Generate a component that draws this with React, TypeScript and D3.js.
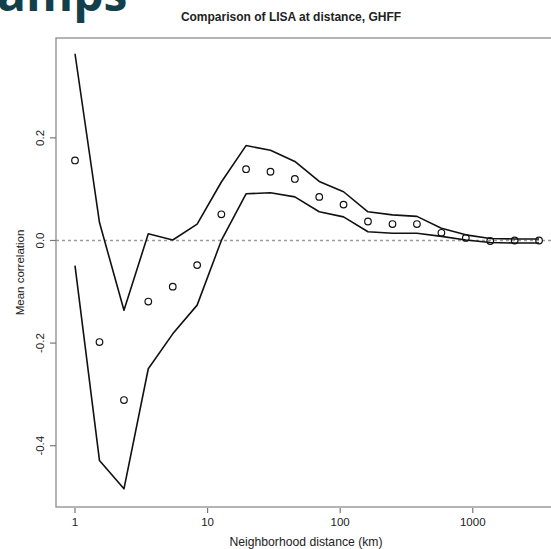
import React from "react";
import * as d3 from "d3";

// Neighborhood distances (km) at which LISA was compared
const distances = [1, 1.53, 2.34, 3.57, 5.46, 8.34, 12.7, 19.5, 29.8, 45.5, 69.5, 106, 162, 248, 379, 580, 886, 1354, 2069, 3162];

// Mean correlation at each distance (points)
const meanCorr = [0.156, -0.198, -0.311, -0.119, -0.09, -0.048, 0.051, 0.139, 0.134, 0.12, 0.085, 0.07, 0.037, 0.032, 0.032, 0.015, 0.005, -0.001, 0.0, 0.0];

// Envelope bounds (solid lines)
const upperBound = [0.364, 0.035, -0.136, 0.013, 0.001, 0.032, 0.114, 0.185, 0.176, 0.154, 0.115, 0.095, 0.056, 0.05, 0.047, 0.024, 0.011, 0.004, 0.003, 0.003];
const lowerBound = [-0.049, -0.429, -0.484, -0.25, -0.182, -0.126, 0.0, 0.091, 0.093, 0.085, 0.056, 0.046, 0.017, 0.014, 0.014, 0.008, 0.001, -0.004, -0.005, -0.005];

const xTicks = [1, 10, 100, 1000];
const yTicks = [-0.4, -0.2, 0.0, 0.2];

const chartTitle = "Comparison of LISA at distance, GHFF";
const xTitle = "Neighborhood distance (km)";
const yTitle = "Mean correlation";
const headerText = "amps";

const W = 551;
const H = 549;
const box = { left: 56, top: 38, right: 556, bottom: 507 };
const FONT = "'Liberation Sans', Arial, Helvetica, sans-serif";

export default function App() {
  const x = d3.scaleLog().domain([0.7189, 3890]).range([56, 551]);
  const y = d3.scaleLinear().domain([-0.5195, 0.3947]).range([507, 38]);

  const line = d3
    .line<number>()
    .x((_, i) => x(distances[i]))
    .y((d) => y(d));

  return (
    <svg
      width={W}
      height={H}
      viewBox={`0 0 ${W} ${H}`}
      style={{ position: "absolute", left: 0, top: 0, background: "#fff" }}
    >
      <rect x={0} y={0} width={W} height={H} fill="#fff" />

      {/* slide heading fragment, running off the top edge */}
      <text
        x={-3}
        y={11}
        fontFamily="'Open Sans', 'Noto Sans', sans-serif"
        fontWeight={700}
        fontSize={48}
        fill="#133f4c"
      >
        {headerText}
      </text>

      <text
        x={291}
        y={21}
        textAnchor="middle"
        fontFamily={FONT}
        fontWeight={700}
        fontSize={12}
        fill="#222"
      >
        {chartTitle}
      </text>

      {/* reference line at zero */}
      <line
        x1={box.left}
        x2={box.right}
        y1={y(0)}
        y2={y(0)}
        stroke="#9a9a9a"
        strokeWidth={1.5}
        strokeDasharray="3,3"
      />

      <path d={line(upperBound) ?? ""} fill="none" stroke="#111" strokeWidth={1.6} strokeLinejoin="round" />
      <path d={line(lowerBound) ?? ""} fill="none" stroke="#111" strokeWidth={1.6} strokeLinejoin="round" />

      {meanCorr.map((v, i) => (
        <circle key={i} cx={x(distances[i])} cy={y(v)} r={3.3} fill="none" stroke="#111" strokeWidth={1.2} />
      ))}

      {/* plot frame */}
      <rect
        x={box.left}
        y={box.top}
        width={box.right - box.left}
        height={box.bottom - box.top}
        fill="none"
        stroke="#8c8c8c"
        strokeWidth={1.3}
      />

      {/* x axis */}
      {xTicks.map((t) => (
        <g key={t}>
          <line x1={x(t)} x2={x(t)} y1={box.bottom + 1} y2={box.bottom + 6} stroke="#777" strokeWidth={1.2} />
          <text x={x(t)} y={526} textAnchor="middle" fontFamily={FONT} fontSize={11.5} fill="#222">
            {String(t)}
          </text>
        </g>
      ))}
      <text x={306} y={546} textAnchor="middle" fontFamily={FONT} fontSize={12.2} fill="#222">
        {xTitle}
      </text>

      {/* y axis */}
      {yTicks.map((t) => (
        <g key={t}>
          <line x1={box.left - 6} x2={box.left} y1={y(t)} y2={y(t)} stroke="#777" strokeWidth={1.2} />
          <text
            transform={`translate(44,${y(t)}) rotate(-90)`}
            textAnchor="middle"
            fontFamily={FONT}
            fontSize={11.5}
            fill="#222"
          >
            {t.toFixed(1)}
          </text>
        </g>
      ))}
      <text
        transform={`translate(24,${(box.top + box.bottom) / 2}) rotate(-90)`}
        textAnchor="middle"
        fontFamily={FONT}
        fontSize={11.5}
        fill="#222"
      >
        {yTitle}
      </text>
    </svg>
  );
}
